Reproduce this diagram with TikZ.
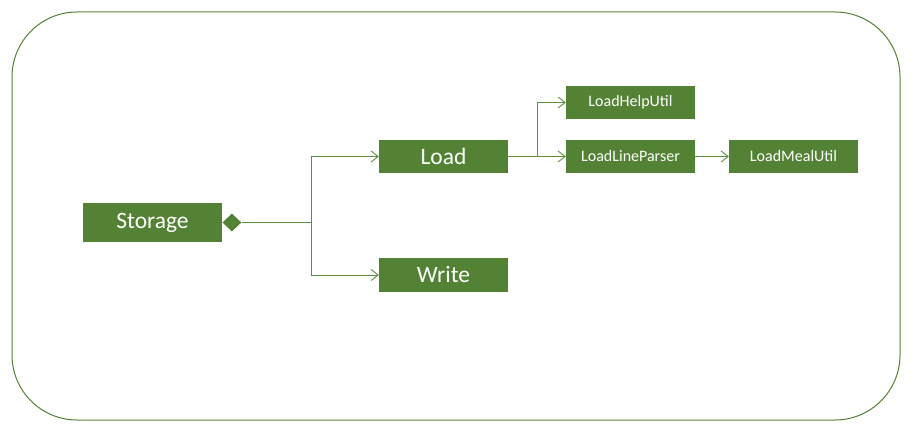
\documentclass[tikz,border=0pt]{standalone}
\usepackage{fontspec}
\setmainfont{Carlito}
\usetikzlibrary{arrows.meta,shapes.geometric}
\definecolor{boxgreen}{HTML}{548235}
\definecolor{linegreen}{HTML}{5E8E3E}
\tikzset{
  bigbox/.style={fill=boxgreen, draw=none, text=white, minimum width=129pt, minimum height=33pt, inner sep=0pt, font=\fontsize{23.5}{26}\selectfont},
  smallbox/.style={fill=boxgreen, draw=none, text=white, minimum width=129pt, minimum height=33pt, inner sep=0pt, font=\fontsize{16}{18}\selectfont},
  conn/.style={draw=linegreen, line width=0.9pt},
  arr/.style={conn, -{Straight Barb[length=7pt,width=11pt,line width=0.9pt]}},
}
\begin{document}
\begin{tikzpicture}[x=1pt,y=-1pt]
\useasboundingbox (0,0) rectangle (917,435);
\draw[draw=boxgreen, line width=1pt, rounded corners=65pt] (12,12) rectangle (900,420);
\node[bigbox, minimum width=139pt, minimum height=39pt] (storage) at (152.5,222.5) {Storage};
\node[diamond, fill=boxgreen, inner sep=0pt, minimum width=19pt, minimum height=18pt, anchor=west] (dia) at (storage.east) {};
\node[bigbox] (load) at (443.5,156.5) {Load};
\node[bigbox] (write) at (443.5,275) {Write};
\node[smallbox] (help) at (630.5,102.5) {LoadHelpUtil};
\node[smallbox] (parser) at (630.5,156.5) {LoadLineParser};
\node[smallbox] (meal) at (793.5,156.5) {LoadMealUtil};
\coordinate (j1) at (311,222.5);
\coordinate (j2) at (537,156.5);
\draw[conn] (dia.east) -- (j1);
\draw[arr] (j1) |- (load.west);
\draw[arr] (j1) |- (write.west);
\draw[arr] (load.east) -- (parser.west);
\draw[arr] (j2) |- (help.west);
\draw[arr] (parser.east) -- (meal.west);
\end{tikzpicture}
\end{document}
